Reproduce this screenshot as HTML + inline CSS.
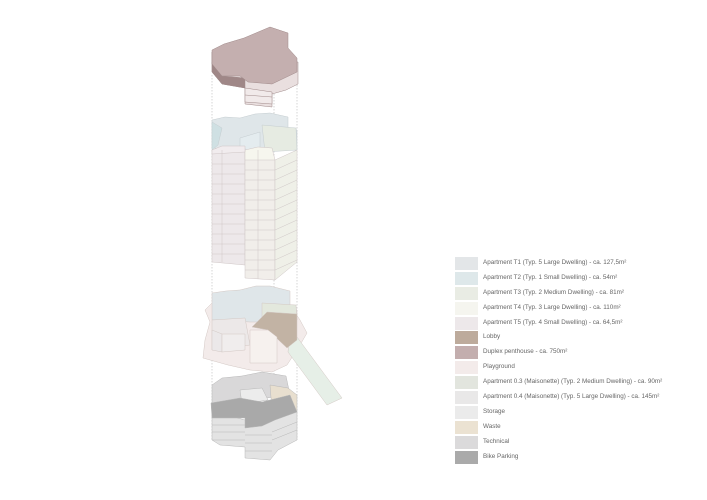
<!DOCTYPE html>
<html><head><meta charset="utf-8"><style>
html,body{margin:0;padding:0;background:#fff;width:707px;height:500px;overflow:hidden;font-family:"Liberation Sans",sans-serif}
.lg{position:absolute;left:455px;top:257px}
.r{position:relative;height:14.9px}
.s{position:absolute;left:0;top:0;width:23px;height:13px}
.t{position:absolute;left:28px;top:2px;font-size:6.3px;color:#666;white-space:nowrap}
</style></head><body>
<svg width="707" height="500" style="position:absolute;left:0;top:0" stroke-linejoin="round">
<g stroke="#bbb" stroke-width="0.6" stroke-dasharray="1.5,1.5" fill="none">
<line x1="212" y1="75" x2="212" y2="440"/><line x1="274" y1="85" x2="274" y2="440"/><line x1="297" y1="70" x2="297" y2="440"/>
</g>
<!-- penthouse -->
<g stroke="#a08a8a" stroke-width="0.5">
<polygon points="212,62 212,72 222,84 245,88 245,104 272,107 272,94 286,90 298,84 298,62" fill="#e9dfdf"/>
<polygon points="212,52 212,64 222,76 245,78 245,88 222,84 212,72" fill="#9f8787"/>
<polygon points="245,88 272,92 272,104 245,102" fill="#f1eaea"/>
<line x1="245" y1="95" x2="272" y2="97"/>
<polygon points="212,50 224,44 244,38 270,27 288,33 288,48 297,58 297,72 272,84 248,82 240,76 222,76 212,64" fill="#c4afaf"/>
</g>
<!-- tower top plates -->
<g stroke="#c5cdd0" stroke-width="0.5">
<polygon points="212,120 225,117 240,118 255,114 270,113 288,117 288,128 297,130 297,150 270,150 250,150 212,148" fill="#dfe6e9"/>
<polygon points="212,122 222,128 218,145 212,150" fill="#cfe0e3"/>
<polygon points="262,125 296,128 297,150 265,152" fill="#e6ebe2"/>
<polygon points="240,138 260,132 260,150 240,150" fill="#e4ecef"/>
</g>
<!-- tower body -->
<g stroke="#cfc6c6" stroke-width="0.5">
<polygon points="212,150 245,148 245,265 212,262" fill="#ede8ea"/>
<polygon points="245,150 270,150 275,160 275,280 245,278" fill="#f1eeea"/>
<polygon points="275,160 297,150 297,262 275,280" fill="#eff0e8"/>
<polygon points="245,150 258,147 272,148 275,160 245,160" fill="#f6f6ee"/>
<polygon points="212,150 222,146 245,146 245,152 212,154" fill="#f1ecee"/>
</g>
<g stroke="#cfc6c6" stroke-width="0.5">
<path d="M212,164H245M212,174H245M212,184H245M212,194H245M212,204H245M212,214H245M212,224H245M212,234H245M212,244H245M212,254H245"/>
<path d="M245,170H275M245,180H275M245,190H275M245,200H275M245,210H275M245,220H275M245,230H275M245,240H275M245,250H275M245,260H275M245,270H275"/>
<path d="M275,170L297,160M275,180L297,170M275,190L297,180M275,200L297,190M275,210L297,200M275,220L297,210M275,230L297,220M275,240L297,230M275,250L297,240M275,260L297,250M275,270L297,260"/>
<path d="M222,150V262M258,150V279"/>
</g>
<!-- lower podium -->
<g stroke="#d3c8c4" stroke-width="0.5">
<polygon points="205,310 212,303 228,300 250,302 268,300 290,305 300,320 307,333 300,345 287,365 272,372 250,370 228,365 203,358 205,340 210,322" fill="#f3ebea"/>
<polygon points="290,335 297,337 342,398 327,405 288,352" fill="#e6efe7"/>
<polygon points="212,293 226,291 240,290 256,286 270,286 290,291 290,305 297,310 297,320 270,322 250,322 212,320" fill="#dfe6e9"/>
<polygon points="262,303 296,305 297,320 262,322" fill="#e3e8dd"/>
<polygon points="252,327 267,312 297,314 297,340 287,348 268,330" fill="#c2b3a4"/>
<polygon points="212,320 245,318 250,345 212,350" fill="#ece8e8"/>
<polygon points="212,330 222,334 222,352 212,350" fill="#ebe8e9"/>
<polygon points="222,334 245,334 245,350 222,352" fill="#f0eded"/>
<polygon points="250,330 268,330 277,337 277,363 250,363" fill="#f6f1ee"/>
</g>
<!-- bottom -->
<g stroke="#b8b8b8" stroke-width="0.5">
<polygon points="212,385 222,378 242,376 262,372 286,376 290,395 212,405" fill="#d9d8d9"/>
<polygon points="270,385 288,388 297,395 297,412 272,410" fill="#e8dfcf"/>
<polygon points="240,390 262,388 268,400 242,404" fill="#ececec"/>
<polygon points="212,405 212,440 220,445 245,447 245,458 270,460 278,450 297,440 297,412 270,415 245,420 230,416" fill="#e3e3e3"/>
<polygon points="211,403 240,398 262,402 290,395 297,412 275,420 262,426 245,428 245,418 212,418" fill="#a9a9a9"/>
<path d="M212,425H245M212,432H245M212,440H245M245,435H272M245,443H272M245,451H272M272,432L297,422M272,440L297,430"/>
</g>
</svg>
<div class="lg">
<div class="r"><div class="s" style="background:#e3e6e8"></div><div class="t">Apartment T1 (Typ. 5 Large Dwelling) - ca. 127,5m²</div></div>
<div class="r"><div class="s" style="background:#dee8ea"></div><div class="t">Apartment T2 (Typ. 1 Small Dwelling) - ca. 54m²</div></div>
<div class="r"><div class="s" style="background:#e9ece4"></div><div class="t">Apartment T3 (Typ. 2 Medium Dwelling) - ca. 81m²</div></div>
<div class="r"><div class="s" style="background:#f5f5ef"></div><div class="t">Apartment T4 (Typ. 3 Large Dwelling) - ca. 110m²</div></div>
<div class="r"><div class="s" style="background:#ede8ea"></div><div class="t">Apartment T5 (Typ. 4 Small Dwelling) - ca. 64,5m²</div></div>
<div class="r"><div class="s" style="background:#bdab9c"></div><div class="t">Lobby</div></div>
<div class="r"><div class="s" style="background:#c3aeae"></div><div class="t">Duplex penthouse - ca. 750m²</div></div>
<div class="r"><div class="s" style="background:#f3ebea"></div><div class="t">Playground</div></div>
<div class="r"><div class="s" style="background:#e2e5de"></div><div class="t">Apartment 0.3 (Maisonette) (Typ. 2 Medium Dwelling) - ca. 90m²</div></div>
<div class="r"><div class="s" style="background:#e9e8e8"></div><div class="t">Apartment 0.4 (Maisonette) (Typ. 5 Large Dwelling) - ca. 145m²</div></div>
<div class="r"><div class="s" style="background:#ebebeb"></div><div class="t">Storage</div></div>
<div class="r"><div class="s" style="background:#ebe2d2"></div><div class="t">Waste</div></div>
<div class="r"><div class="s" style="background:#dbdadb"></div><div class="t">Technical</div></div>
<div class="r"><div class="s" style="background:#aaaaaa"></div><div class="t">Bike Parking</div></div>
</div>
</body></html>
